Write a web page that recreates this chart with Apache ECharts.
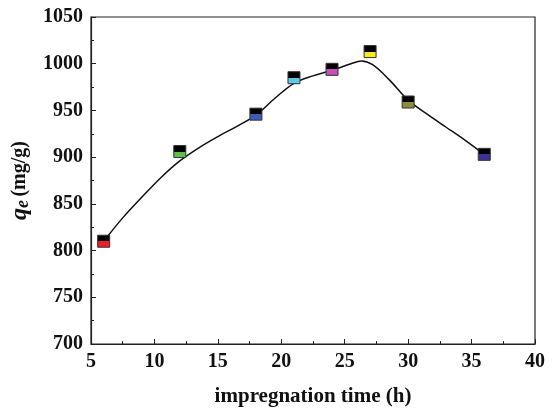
<!DOCTYPE html>
<html><head><meta charset="utf-8">
<script src="https://cdn.jsdelivr.net/npm/echarts@6/dist/echarts.min.js"></script>
<style>html,body{margin:0;padding:0;background:#fff}#c{width:553px;height:412px}</style>
</head><body><div id="c"></div>
<script>
const times = [6, 12, 18, 21, 24, 27, 30, 36];
const qe = [810, 906, 946, 985, 994, 1013, 959, 903];
const markerColors = ['#e8202a', '#5cbf4a', '#3b5db8', '#5ccbe3', '#c451b4', '#f7ea1c', '#8c8c3c', '#3b3294'];
const fitX = [6.3, 7.5, 9, 10.5, 12, 13.5, 15, 16.5, 18, 19.5, 21, 22.5, 24, 25.5, 26.3, 27.2, 28.5, 30, 31.5, 33, 34.5, 35.7];
const fitY = [815, 835, 857, 878, 896, 910, 922, 933, 945, 963, 979, 987, 993, 1000, 1003, 999, 983, 961, 946, 932, 918, 906];
const xTicks = [5, 10, 15, 20, 25, 30, 35, 40];
const yTicks = [700, 750, 800, 850, 900, 950, 1000, 1050];

const font = 'Liberation Serif';
const chart = echarts.init(document.getElementById('c'));
chart.setOption({
  animation: false,
  grid: { left: 91, right: 18, top: 17, bottom: 66, show: true, borderColor: '#222', borderWidth: 1.2 },
  xAxis: {
    type: 'value', min: xTicks[0], max: xTicks[xTicks.length - 1], interval: 5,
    name: 'impregnation time (h)', nameLocation: 'middle', nameGap: 42,
    nameTextStyle: { fontFamily: font, fontWeight: 'bold', fontSize: 21, color: '#111' },
    axisLine: { lineStyle: { color: '#222', width: 1.2 } },
    axisTick: { inside: true, length: 5, lineStyle: { color: '#222' } },
    minorTick: { show: true, splitNumber: 2, length: 3, lineStyle: { color: '#222' } },
    splitLine: { show: false },
    axisLabel: { fontFamily: font, fontWeight: 'bold', fontSize: 20, color: '#111', margin: 8 }
  },
  yAxis: {
    type: 'value', min: yTicks[0], max: yTicks[yTicks.length - 1], interval: 50,
    name: '{q|q}{e|e} {n|(mg/g)}', nameLocation: 'middle', nameGap: 54, nameRotate: 90,
    nameTextStyle: {
      rich: {
        q: { fontFamily: font, fontStyle: 'italic', fontWeight: 'bold', fontSize: 24, color: '#111' },
        e: { fontFamily: font, fontStyle: 'italic', fontWeight: 'bold', fontSize: 18, color: '#111', verticalAlign: 'bottom', padding: [6, 0, 0, 0] },
        n: { fontFamily: font, fontWeight: 'bold', fontSize: 20, color: '#111' }
      }
    },
    axisLine: { show: true, lineStyle: { color: '#222', width: 1.2 } },
    axisTick: { show: true, inside: true, length: 5, lineStyle: { color: '#222' } },
    minorTick: { show: true, splitNumber: 2, length: 3, lineStyle: { color: '#222' } },
    splitLine: { show: false },
    axisLabel: { fontFamily: font, fontWeight: 'bold', fontSize: 20, color: '#111', margin: 8, formatter: v => String(v) }
  },
  series: [
    {
      type: 'line', smooth: 0.35, showSymbol: false, symbol: 'none',
      lineStyle: { color: '#111', width: 1.5 },
      data: fitX.map((x, i) => [x, fitY[i]]), z: 2
    },
    {
      type: 'scatter', symbol: 'rect', symbolSize: [12, 12], z: 3,
      data: times.map((t, i) => ({
        value: [t, qe[i]],
        itemStyle: {
          color: { type: 'linear', x: 0, y: 0, x2: 0, y2: 1, colorStops: [
            { offset: 0, color: '#000' }, { offset: 0.5, color: '#000' },
            { offset: 0.5, color: markerColors[i] }, { offset: 1, color: markerColors[i] }
          ] },
          borderColor: '#333', borderWidth: 1, opacity: 1
        }
      }))
    }
  ]
});
</script></body></html>
